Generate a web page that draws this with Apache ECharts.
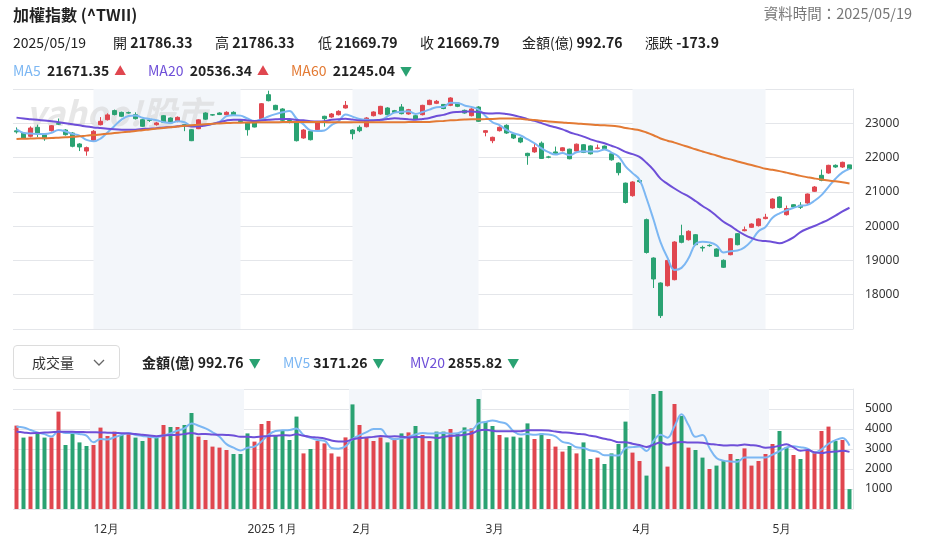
<!DOCTYPE html>
<html>
<head>
<meta charset="utf-8">
<script src="https://cdn.jsdelivr.net/npm/echarts@6/dist/echarts.min.js"></script>
<style>
body{margin:0;background:#fff;font-family:'Noto Sans CJK TC','Noto Sans',sans-serif;color:#222}
#wrap{position:relative;width:925px;height:553px;overflow:hidden}
#chart{position:absolute;left:0;top:0;width:925px;height:553px}
.t{position:absolute;white-space:nowrap;font-size:14px;line-height:20px}
.b{font-weight:bold}
.up{color:#e0464f;font-size:12px;margin-left:5px}
.dn{color:#2aa272;font-size:12px;margin-left:5px}
#sel{position:absolute;left:13px;top:345px;width:107px;height:34px;border:1px solid #dcdcdc;border-radius:4px;box-sizing:border-box}
</style>
</head>
<body>
<div id="wrap">
  <div id="chart"></div>
  <div class="t b" style="left:13px;top:3px;font-size:16px;line-height:22px">加權指數 (^TWII)</div>
  <div class="t" style="right:13px;top:3px;font-size:14.5px;color:#777">資料時間：2025/05/19</div>

  <div class="t" style="left:13px;top:32px">2025/05/19</div>
  <div class="t" style="left:113px;top:32px">開 <span class="b">21786.33</span></div>
  <div class="t" style="left:215px;top:32px">高 <span class="b">21786.33</span></div>
  <div class="t" style="left:318px;top:32px">低 <span class="b">21669.79</span></div>
  <div class="t" style="left:420px;top:32px">收 <span class="b">21669.79</span></div>
  <div class="t" style="left:522px;top:32px">金額(億) <span class="b">992.76</span></div>
  <div class="t" style="left:645px;top:32px">漲跌 <span class="b">-173.9</span></div>

  <div class="t" style="left:13px;top:60px"><span style="color:#7cb7f3">MA5</span>&nbsp;&nbsp;<span class="b">21671.35</span><span class="up">▲</span></div>
  <div class="t" style="left:148px;top:60px"><span style="color:#6e4fd8">MA20</span>&nbsp;&nbsp;<span class="b">20536.34</span><span class="up">▲</span></div>
  <div class="t" style="left:291px;top:60px"><span style="color:#e37a34">MA60</span>&nbsp;&nbsp;<span class="b">21245.04</span><span class="dn">▼</span></div>

  <div id="sel">
    <div class="t" style="left:18px;top:6px;color:#333">成交量</div>
    <svg style="position:absolute;left:79px;top:13px" width="12" height="8"><polyline points="1,1 6,6 11,1" fill="none" stroke="#666" stroke-width="1.3"/></svg>
  </div>
  <div class="t" style="left:142px;top:352px"><span class="b">金額(億) 992.76</span><span class="dn">▼</span></div>
  <div class="t" style="left:283px;top:352px"><span style="color:#7cb7f3">MV5</span> <span class="b">3171.26</span><span class="dn">▼</span></div>
  <div class="t" style="left:410px;top:352px"><span style="color:#6e4fd8">MV20</span> <span class="b">2855.82</span><span class="dn">▼</span></div>
</div>
<script>
// trading days shown, by month
const tradingDays = {
  '2024/11': [15,18,19,20,21,22,25,26,27,28,29],
  '2024/12': [2,3,4,5,6,9,10,11,12,13,16,17,18,19,20,23,24,25,26,27,30,31],
  '2025/01': [2,3,6,7,8,9,10,13,14,15,16,17,20,21,22],
  '2025/02': [3,4,5,6,7,10,11,12,13,14,17,18,19,20,21,24,25,26,27],
  '2025/03': [3,4,5,6,7,10,11,12,13,14,17,18,19,20,21,24,25,26,27,28,31],
  '2025/04': [1,2,7,8,9,10,11,14,15,16,17,18,21,22,23,24,25,28,29,30],
  '2025/05': [2,5,6,7,8,9,12,13,14,15,16,19]
};
const monthLabels = {'2024/12':'12月','2025/01':'2025 1月','2025/02':'2月','2025/03':'3月','2025/04':'4月','2025/05':'5月'};
const shadedMonths = ['2024/12','2025/02','2025/04'];

const prevClose = 22700;
const opens = [22780,22716,22620,22883,22667,22784,22990,22804,22716,22396,22190,22492,22960,23105,23370,23320,23310,23250,23105,23095,22960,23221,23154,23057,22960,22813,22842,23300,23250,23300,
  23250,23320,23080,23008,23008,23134,23834,23523,23417,23080,23008,22571,22767,22813,23204,23183,23250,23446,22804,22883,22900,23221,23271,23446,23367,23475,23271,23221,23250,23545,
  23583,23550,23524,23592,23378,23221,23475,22736,22492,22784,22940,22687,22570,22124,22165,22420,22020,22165,22200,22245,22190,22375,22340,22270,22335,22110,21840,21255,20888,21330,
  20190,19070,18342,18263,18438,19721,19604,19750,19380,19440,19333,19003,19167,19780,19867,19966,20013,20220,20529,20850,20334,20625,20610,20675,21016,21483,21550,21774,21725,21786.33];
const closes = [22750,22570,22862,22696,22550,22929,22975,22667,22329,22310,22290,22767,23058,23245,23255,23204,23300,23134,22912,23085,23010,23030,23008,23174,22935,22492,23100,23120,23240,23255,
  23320,23250,23050,22813,22891,23571,23659,23396,23087,23060,22492,22804,22521,23008,23134,23271,23349,23523,22696,22784,23154,23330,23494,23250,23320,23280,23396,23125,23523,23670,
  23641,23430,23738,23495,23300,23417,23058,22784,22591,22883,22716,22570,22454,22054,22290,21975,22010,22115,22285,21965,22390,22150,22110,22280,22260,21935,21560,20690,21288,21298,
  19232,18459,17391,19000,19537,19528,19850,19459,19362,19430,19120,18800,19633,19459,19896,20062,20210,20260,20791,20545,20515,20558,20550,20937,21142,21337,21774,21725,21862,21669.79];
const lows = [22700,22540,22590,22600,22490,22760,22950,22640,22300,22190,22054,22470,22940,23080,23230,23180,23280,23110,22890,23040,22930,23010,22990,23030,22770,22480,22830,23100,23220,23240,
  23230,23230,23020,22640,22880,23120,23640,23380,23070,23000,22470,22550,22500,22790,22900,23160,23230,23430,22530,22740,22880,23200,23250,23230,23300,23260,23250,23100,23230,23530,
  23560,23410,23500,23470,23280,23200,23040,22620,22420,22760,22690,22540,22420,21790,22140,21960,21980,22090,22180,21950,22170,22130,22090,22240,22240,21910,21480,20660,20860,21260,
  19200,18195,17320,18240,18420,19500,19580,19440,19260,19400,19100,18780,19150,19440,19850,19950,19990,20200,20510,20520,20310,20530,20500,20650,21000,21310,21530,21700,21700,21669.79];
const highs = [22880,22740,22910,22960,22690,22950,23140,22830,22740,22420,22320,22800,23180,23290,23400,23340,23340,23320,23130,23120,23040,23240,23170,23200,22970,22830,23120,23320,23270,23320,
  23350,23350,23100,23020,23030,23590,23950,23540,23440,23130,23020,22830,22790,23030,23220,23300,23380,23650,22830,22940,23180,23350,23510,23470,23390,23560,23420,23240,23540,23690,
  23680,23560,23760,23620,23400,23440,23500,22800,22610,22910,22970,22700,22590,22140,22420,22470,22050,22320,22300,22260,22410,22390,22360,22380,22350,22130,21860,21270,21310,21350,
  20220,19090,18360,19010,19560,20042,19880,19770,19430,19470,19350,19030,19650,19800,19990,20080,20230,20360,20810,20870,20600,20640,20700,20950,21170,21650,21790,21800,21880,21786.33];

const ma5 = [22820,22720,22700,22690,22686,22721,22802,22763,22690,22642,22514,22473,22551,22734,22923,23106,23212,23228,23161,23127,23088,23034,23009,23061,23031,22928,22942,22964,22977,23041,
  23207,23237,23223,23138,23065,23115,23197,23266,23321,23355,23139,22968,22793,22777,22792,22948,23057,23257,23195,23125,23101,23097,23092,23202,23310,23335,23348,23274,23329,23399,
  23471,23478,23600,23595,23521,23476,23402,23211,23030,22947,22806,22709,22643,22535,22417,22269,22157,22089,22135,22070,22153,22181,22180,22179,22238,22147,22029,21745,21547,21354,
  20814,20193,19534,19076,18724,18783,19061,19475,19547,19526,19444,19234,19269,19288,19382,19570,19852,19977,20244,20374,20464,20534,20592,20621,20740,20905,21148,21383,21568,21671.35];
const ma20 = [23165,23140,23120,23100,23080,23060,23030,23000,22970,22940,22905,22880,22860,22840,22825,22815,22812,22815,22830,22844,
  22857,22880,22888,22912,22931,22909,22915,22938,22983,23031,23082,23106,23106,23084,23066,23085,23102,23116,23124,23123,
  23097,23086,23062,23053,23063,23102,23115,23135,23108,23084,23076,23080,23102,23124,23145,23131,23117,23104,23126,23156,
  23214,23245,23306,23330,23338,23346,23331,23294,23289,23294,23272,23234,23182,23122,23071,23006,22936,22886,22824,22739,
  22676,22612,22531,22470,22418,22344,22269,22164,22099,22020,21846,21640,21387,21234,21097,20974,20866,20733,20587,20460,
  20297,20129,20006,19865,19746,19653,19585,19564,19539,19501,19565,19670,19828,19925,20005,20096,20192,20305,20430,20536.34];
const ma60 = [22545,22550,22555,22560,22565,22570,22580,22590,22605,22620,22640,22655,22675,22695,22715,22735,22755,22775,22800,22820,22845,22865,22885,22905,22925,22940,22955,22970,22985,22995,
  23005,23012,23018,23022,23025,23028,23030,23032,23034,23035,23036,23037,23036,23035,23034,23033,23032,23031,23030,23030,23029,23029,23029,23030,23031,23032,23034,23036,23038,23041,
  23056,23070,23085,23098,23111,23119,23120,23122,23127,23136,23143,23140,23130,23110,23094,23074,23052,23035,23025,23006,22996,22981,22966,22951,22940,22931,22905,22864,22832,22799,
  22731,22651,22557,22493,22437,22370,22307,22241,22179,22118,22062,21995,21947,21888,21834,21781,21728,21674,21642,21605,21561,21515,21466,21427,21391,21358,21331,21308,21280,21245.04];

// 成交金額(億)
const volumes = [4170,3570,3620,3780,3570,3570,4870,3200,3780,3330,3150,3200,4070,3650,3870,3700,3730,3570,3400,3620,3570,4200,4100,4100,4200,4800,3620,3450,3120,3070,
  2950,2750,2750,3780,3370,4250,4400,3700,3950,3450,4620,2780,3000,3400,3280,2780,2620,3580,5230,4200,3580,3400,3580,3330,3530,3780,3830,4150,3700,3400,
  3870,3870,4000,3780,4080,4030,5500,4370,4150,3700,3580,3620,3570,4280,3500,3780,3500,3120,2870,3150,2780,3330,2500,2570,2250,2780,3250,4370,2820,2400,
  1670,5750,5900,2120,5250,4650,3070,2950,2570,2000,2170,2400,2750,2500,3030,2170,2400,2750,3250,3900,3080,2700,2500,2920,2870,3900,4120,3400,3450,992.76];
const mv5 = [4110,4080,3950,3830,3742,3622,3882,3798,3798,3750,3666,3332,3506,3480,3588,3698,3804,3704,3654,3604,3578,3672,3778,3918,4034,4280,4164,4034,3838,3612,
  3242,3068,2928,3060,3120,3380,3710,3900,3934,3950,4024,3700,3560,3450,3416,3048,3016,3132,3498,3682,3842,3998,3998,3618,3484,3524,3610,3724,3798,3772,
  3790,3798,3768,3784,3920,3952,4278,4352,4426,4350,4260,3884,3724,3750,3710,3750,3726,3636,3354,3284,3084,3050,2926,2866,2686,2686,2670,3044,3094,3124,
  2902,3402,3708,3568,4138,4734,4198,3608,3698,3048,2552,2418,2378,2364,2570,2570,2570,2570,2720,2894,3076,3136,3086,3020,2814,2978,3262,3442,3548,3171.26];
const mv20 = [3860,3830,3790,3800,3820,3840,3860,3865,3860,3850,3840,3835,3830,3815,3800,3790,3780,3750,3710,3671,
  3641,3673,3697,3713,3744,3806,3743,3756,3723,3710,3700,3677,3611,3618,3593,3620,3654,3660,3688,3679,
  3732,3661,3606,3571,3525,3424,3374,3380,3486,3542,3574,3606,3648,3625,3633,3610,3581,3604,3591,3589,
  3551,3606,3656,3675,3715,3777,3921,3961,3907,3882,3882,3893,3892,3940,3938,3938,3922,3870,3829,3816,
  3762,3735,3660,3599,3508,3445,3333,3333,3266,3201,3106,3212,3329,3221,3308,3352,3330,3322,3307,3249,
  3219,3172,3185,3181,3220,3190,3147,3066,3088,3163,3233,3081,2911,2951,2832,2794,2847,2869,2913,2855.82];

const dates = [];
Object.keys(tradingDays).forEach(m => {
  tradingDays[m].forEach(d => dates.push(m + '/' + String(d).padStart(2, '0')));
});
const monthStart = dates.map((d, i) => i === 0 || d.slice(0, 7) !== dates[i - 1].slice(0, 7));

const up = '#e0464f', down = '#2aa272';
const bandColor = '#f3f6fa';
const gridColor = '#e4e6ea';

const candles = dates.map((d, i) => [opens[i], closes[i], lows[i], highs[i]]);
const volBars = volumes.map((v, i) => ({
  value: v,
  itemStyle: { color: closes[i] > (i ? closes[i - 1] : prevClose) ? up : down }
}));
const bands = shadedMonths.map(m => {
  const days = dates.filter(d => d.startsWith(m));
  return [{ xAxis: days[0] }, { xAxis: days[days.length - 1] }];
});
const bandArea = { silent: true, z: 0, itemStyle: { color: bandColor }, data: bands };

const labelStyle = { color: '#333', fontSize: 12, fontFamily: 'Noto Sans' };

function lineSeries(name, data, color, xi) {
  return {
    name: name, type: 'line', data: data, xAxisIndex: xi, yAxisIndex: xi,
    smooth: 0.4, symbol: 'none', silent: true, z: 3,
    lineStyle: { color: color, width: 2 }
  };
}

const chart = echarts.init(document.getElementById('chart'));
chart.setOption({
  animation: false,
  graphic: [{
    type: 'text', left: 26, top: 96, z: 1, silent: true,
    style: { text: 'yahoo!股市', font: 'bold italic 34px "Noto Sans CJK TC", sans-serif', fill: '#d4d4d4', opacity: 0.55 }
  }],
  grid: [
    { left: 13, right: 72, top: 89, height: 240 },
    { left: 13, right: 72, top: 389, height: 120 }
  ],
  xAxis: [
    { type: 'category', data: dates, gridIndex: 0, boundaryGap: true,
      axisLine: { show: false }, axisTick: { show: false }, axisLabel: { show: false }, splitLine: { show: false } },
    { type: 'category', data: dates, gridIndex: 1, boundaryGap: true,
      axisLine: { show: false }, axisTick: { show: false }, splitLine: { show: false },
      axisLabel: Object.assign({
        margin: 15, align: 'left',
        interval: (idx) => monthStart[idx] && !!monthLabels[dates[idx].slice(0, 7)],
        formatter: (val) => monthLabels[val.slice(0, 7)] || ''
      }, labelStyle) }
  ],
  yAxis: [
    { type: 'value', gridIndex: 0, position: 'right', min: 17000, max: 24000, interval: 1000,
      axisLine: { show: true, lineStyle: { color: gridColor } }, axisTick: { show: false },
      splitLine: { lineStyle: { color: gridColor } },
      axisLabel: Object.assign({ margin: 12, formatter: v => (v === 17000 || v === 24000) ? '' : v }, labelStyle) },
    { type: 'value', gridIndex: 1, position: 'right', min: 0, max: 6000, interval: 1000,
      axisLine: { show: true, lineStyle: { color: gridColor } }, axisTick: { show: false },
      splitLine: { lineStyle: { color: gridColor } },
      axisLabel: Object.assign({ margin: 12, formatter: v => (v === 0 || v === 6000) ? '' : v }, labelStyle) }
  ],
  series: [
    { name: '加權指數', type: 'candlestick', data: candles, xAxisIndex: 0, yAxisIndex: 0, barWidth: 5, z: 2,
      itemStyle: { color: up, color0: down, borderColor: up, borderColor0: down, borderWidth: 1 },
      markArea: bandArea },
    lineSeries('MA5', ma5, '#7cb7f3', 0),
    lineSeries('MA20', ma20, '#6e4fd8', 0),
    lineSeries('MA60', ma60, '#e37a34', 0),
    { type: 'bar', data: [], xAxisIndex: 1, yAxisIndex: 1, z: 0, silent: true, markArea: bandArea },
    { name: '金額(億)', type: 'bar', data: volBars, xAxisIndex: 1, yAxisIndex: 1, barWidth: 4, barGap: '-100%', z: 2 },
    lineSeries('MV5', mv5, '#7cb7f3', 1),
    lineSeries('MV20', mv20, '#6e4fd8', 1)
  ]
});
</script>
</body>
</html>
